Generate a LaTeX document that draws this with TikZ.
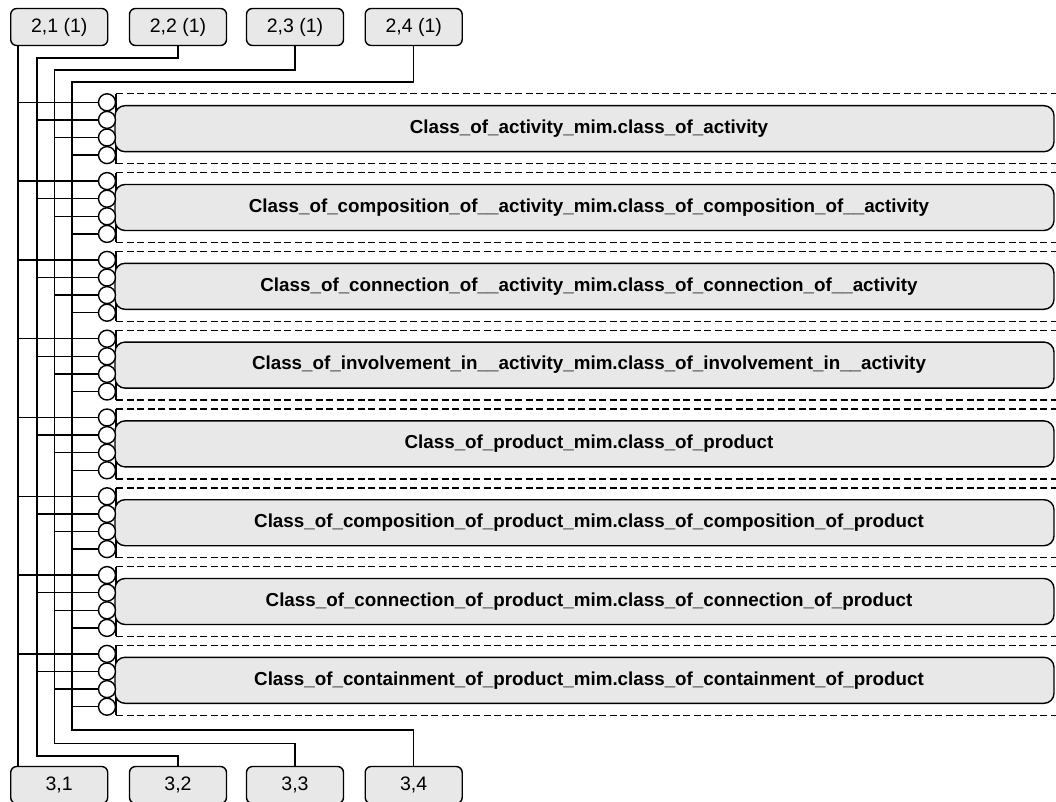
\documentclass[tikz,border=0pt]{standalone}
\usepackage{fontspec}
\setmainfont{Liberation Sans}
\definecolor{boxgray}{RGB}{232,232,232}
\begin{document}
\begin{tikzpicture}[x=1pt,y=-1pt,line width=1.4pt,
  sbox/.style={draw,fill=boxgray,rounded corners=6pt,minimum width=97pt,minimum height=37pt,inner sep=0pt,font=\fontsize{19.5}{22}\selectfont},
  gbox/.style={draw,fill=boxgray,rounded corners=10pt,minimum width=939pt,minimum height=46pt,inner sep=0pt},
  gtext/.style={font=\fontsize{18.8}{22}\selectfont\bfseries,inner sep=0pt},
  port/.style={circle,draw,fill=white,minimum size=17pt,inner sep=0pt},
  dashline/.style={dash pattern=on 7pt off 3.5pt}]
\useasboundingbox (0,0) rectangle (1056,802);

% top and bottom boxes
\node[sbox] (t1) at (59.2,27) {2,1 (1)};
\node[sbox] (t2) at (178,27) {2,2 (1)};
\node[sbox] (t3) at (295,27) {2,3 (1)};
\node[sbox] (t4) at (413.7,27) {2,4 (1)};
\node[sbox] (b1) at (59.2,785) {3,1};
\node[sbox] (b2) at (178,785) {3,2};
\node[sbox] (b3) at (295,785) {3,3};
\node[sbox] (b4) at (413.7,785) {3,4};

% bus coordinates
\coordinate (x1) at (18,0);
\coordinate (x2) at (37,0);
\coordinate (x3) at (54.5,0);
\coordinate (x4) at (72,0);
\coordinate (top2) at (37,58);
\coordinate (top3) at (54.5,70);
\coordinate (top4) at (72,82);
\coordinate (bot2) at (37,756);
\coordinate (bot3) at (54.5,743.5);
\coordinate (bot4) at (72,730);

\draw (t1.south -| x1) -- (b1.north -| x1);
\draw (t2.south) |- (top2) -- (bot2) -| (b2.north);
\draw (t3.south) |- (top3) -- (bot3) -| (b3.north);
\draw (t4.south) |- (top4) -- (bot4) -| (b4.north);

% groups
\foreach \g/\txt in {
  0/{Class\_of\_activity\_mim.class\_of\_activity},
  1/{Class\_of\_composition\_of\_\_activity\_mim.class\_of\_composition\_of\_\_activity},
  2/{Class\_of\_connection\_of\_\_activity\_mim.class\_of\_connection\_of\_\_activity},
  3/{Class\_of\_involvement\_in\_\_activity\_mim.class\_of\_involvement\_in\_\_activity},
  4/{Class\_of\_product\_mim.class\_of\_product},
  5/{Class\_of\_composition\_of\_product\_mim.class\_of\_composition\_of\_product},
  6/{Class\_of\_connection\_of\_product\_mim.class\_of\_connection\_of\_product},
  7/{Class\_of\_containment\_of\_product\_mim.class\_of\_containment\_of\_product}}{
  \pgfmathsetmacro\ya{102.3+78.8*\g}
  \pgfmathsetmacro\yt{\ya-8.5}
  \pgfmathsetmacro\yb{\ya+52.8+8.5}
  \pgfmathsetmacro\yc{\ya+26.4}
  \coordinate (dt\g) at (116,\yt);
  \coordinate (db\g) at (116,\yb);
  \draw[dashline] (dt\g) -- (1056,\yt);
  \draw[dashline] (db\g) -- (1056,\yb);
  \draw (dt\g) -- (db\g);
  \node[gbox] (g\g) at (584.5,\yc) {};
  \node[gtext] (l\g) at ([xshift=4.5pt]g\g.center) {\txt};
  \foreach \k in {1,2,3,4}{
    \pgfmathsetmacro\yk{\ya+17.6*(\k-1)}
    \node[port] (c\g-\k) at (107,\yk) {};
    \draw (c\g-\k.west -| x\k) -- (c\g-\k.west);
  }
}
\end{tikzpicture}
\end{document}
